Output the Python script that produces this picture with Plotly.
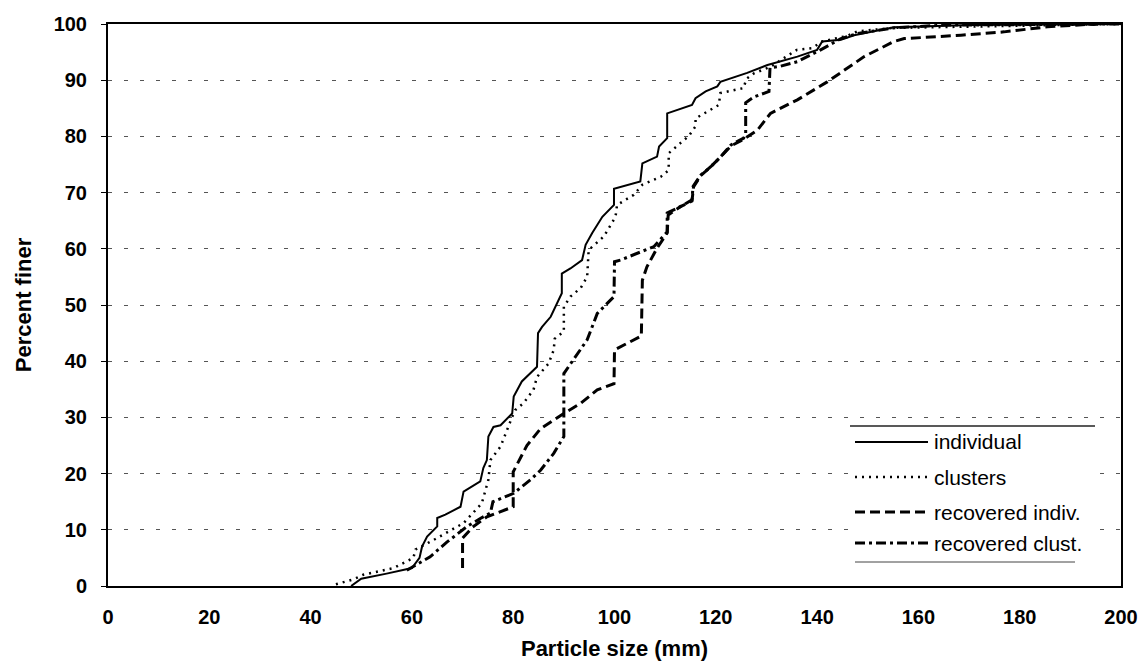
import plotly.graph_objects as go

# ---- data ----
ind_x = [48, 50, 55, 60, 61.5, 62, 63, 65, 65, 66.6, 69.6, 70.2, 73.5, 74.1, 74.8, 75.1, 76.1, 77.5,
         79.8, 80.1, 81.7, 84.7, 84.9, 85.7, 87.4, 88.3, 89.6, 89.6, 91.3, 93.6, 94.3, 95.6, 97.6, 99.9,
         99.9, 105.1, 105.5, 108.4, 108.8, 110.4, 110.4, 115.3, 116, 118, 120.3, 120.9, 126.2, 130.2,
         136.1, 140, 141, 144.7, 147.3, 155.2, 170, 200]
ind_y = [0, 1.3, 2.2, 3.2, 5, 7, 8.8, 10.6, 12.1, 12.7, 14.1, 16.8, 18.6, 21, 22.4, 26.6, 28.3, 28.6,
         30.7, 33.7, 36.4, 39, 45, 46.1, 47.9, 49.7, 52.1, 55.6, 56.5, 58, 60.7, 62.8, 65.7, 67.8,
         70.7, 72, 75.2, 76.4, 78.2, 79.7, 84.1, 85.6, 86.8, 88, 88.9, 89.7, 91.3, 92.7,
         94.2, 95.4, 96.9, 97.2, 98, 99.4, 99.8, 100]

clu_x = [45, 48.5, 50.4, 56.4, 60.3, 60.7, 64.3, 70.2, 73.8, 75.1, 75.5, 77.5, 79.8, 80.4, 82, 84,
         84.7, 87, 88, 88.2, 90, 90, 91.3, 93.3, 94.6, 94.9, 97.9, 100.2, 100.5, 103.8, 105.5, 109.1,
         110.7, 110.7, 113, 114.7, 116, 116, 118.3, 120.6, 120.9, 125.5, 126, 127.5, 130.8, 136, 139,
         141, 146, 148, 155, 200]
clu_y = [0.3, 1.2, 2, 3.2, 5, 6.5, 8.2, 11.2, 14.7, 18.9, 22.4, 24.8, 30.1, 31.3, 32.5, 34.9,
         37.2, 39.6, 42, 44, 45.3, 49.7, 51.5, 53, 55, 59.8, 62.2, 65.7, 67.8, 69.6, 71.4, 72.8,
         74, 77, 78.8, 80.1, 81.8, 83.2, 84.4, 85.6, 87.7, 88.6, 90.2, 91.2, 92.4, 95.4, 95.7,
         96.9, 97.9, 98.7, 99.3, 100]

rind_x = [70, 70, 72, 74.8, 80, 80, 82.7, 85.4, 89.3, 93.3, 96.6, 99.9, 100, 104.5, 105.3, 105.5,
          106.4, 108.4, 110.4, 110.6, 113, 115.3, 115.6, 117, 119, 121, 123, 125.5, 128.2, 130.8,
          136.1, 142, 149.3, 155.2, 157.2, 168.4, 176.9, 185.5, 195]
rind_y = [3.2, 8.5, 10.5, 12.3, 14.1, 20.3, 25, 28, 30.3, 32.5, 34.9, 36, 42, 44, 44.5, 54.4,
          56.8, 60.1, 62.8, 66, 67.5, 68.5, 71, 73, 74.6, 76.4, 78.3, 79.5, 81.1, 84.1,
          86.5, 89.7, 94.2, 96.9, 97.4, 98, 98.6, 99.5, 100]

rclu_x = [59, 63.6, 66.9, 70.9, 73.5, 75.5, 76, 77.5, 80.1, 83.4, 85.4, 88, 90, 90, 91.3, 92.3,
          94.6, 96.6, 99.9, 100, 101.2, 107.8, 110.4, 110.4, 113, 115.3, 115.5, 117, 119, 121, 123,
          125.5, 125.9, 125.9, 127.5, 130.5, 130.7, 132.8, 136.1, 140.7, 144.7, 148, 155, 165, 200]
rclu_y = [2.8, 5.2, 7.8, 10.6, 12, 13, 15, 15.6, 16.5, 18.9, 20.6, 23.6, 26.6, 37.8, 39.6, 40.8,
          43.8, 48.5, 51.5, 57.7, 58, 60.4, 63, 66.4, 67.5, 68.7, 71.1, 73.1, 74.6, 76.4, 78.5,
          79.7, 80.5, 86, 87, 88, 92.2, 92.5, 93.3, 95.4, 97.4, 98.3, 99.3, 99.8, 100]

names = ["individual", "clusters", "recovered indiv.", "recovered clust."]
x_ticks = list(range(0, 201, 20))
y_ticks = list(range(0, 101, 10))

styles = [
    dict(color="black", width=2, dash="solid"),
    dict(color="black", width=2.5, dash="2px,5px"),
    dict(color="black", width=3, dash="10px,5px"),
    dict(color="black", width=3, dash="10px,4px,3px,4px"),
]
series = [(ind_x, ind_y), (clu_x, clu_y), (rind_x, rind_y), (rclu_x, rclu_y)]

FONT = "Liberation Sans, Arial"

fig = go.Figure()
for (xs, ys), nm, st in zip(series, names, styles):
    fig.add_trace(go.Scatter(x=xs, y=ys, mode="lines", name=nm, line=st, showlegend=False))

W, H = 1147, 665
L, R, T, B = 108, 26, 24, 79
pw, ph = W - L - R, H - T - B

def px2paper(px, py):
    return (px - L) / pw, (H - B - py) / ph

shapes = []
# legend background and rules
x0, y0 = px2paper(850, 562)
x1, y1 = px2paper(1100, 426)
shapes.append(dict(type="rect", xref="paper", yref="paper", x0=x0, y0=y0, x1=x1, y1=y1,
                   fillcolor="white", line=dict(width=0), layer="above"))
a, b = px2paper(850, 426); c, _ = px2paper(1095, 426)
shapes.append(dict(type="line", xref="paper", yref="paper", x0=a, y0=b, x1=c, y1=b,
                   line=dict(color="#222", width=1.5), layer="above"))
a, b = px2paper(855, 562); c, _ = px2paper(1075, 562)
shapes.append(dict(type="line", xref="paper", yref="paper", x0=a, y0=b, x1=c, y1=b,
                   line=dict(color="#444", width=1), layer="above"))
annotations = []
leg_y = [442, 477, 512, 543]
for nm, st, py in zip(names, styles, leg_y):
    a, b = px2paper(855, py); c, _ = px2paper(928, py)
    shapes.append(dict(type="line", xref="paper", yref="paper", x0=a, y0=b, x1=c, y1=b,
                       line=st, layer="above"))
    tx, ty = px2paper(932, py)
    annotations.append(dict(xref="paper", yref="paper", x=tx, y=ty, text=nm, showarrow=False,
                            xanchor="left", yanchor="middle",
                            font=dict(family=FONT, size=21, color="black")))

fig.update_layout(
    width=W, height=H,
    margin=dict(l=L, r=R, t=T, b=B, autoexpand=False),
    plot_bgcolor="white", paper_bgcolor="white",
    font=dict(family=FONT, color="black"),
    shapes=shapes, annotations=annotations,
    xaxis=dict(range=[0, 200], tickvals=x_ticks, ticks="", showgrid=False, zeroline=False,
               showline=True, linecolor="black", linewidth=2, mirror=True, automargin=False,
               tickfont=dict(size=20, weight="bold"), ticklabelstandoff=12,
               title=dict(text="Particle size (mm)", font=dict(size=22, weight="bold"), standoff=14)),
    yaxis=dict(range=[0, 100], tickvals=y_ticks, ticks="outside", ticklen=5, tickcolor="black",
               showgrid=True, gridcolor="#555", gridwidth=1, griddash="4px,12px", zeroline=False,
               showline=True, linecolor="black", linewidth=2, mirror=True, automargin=False,
               tickfont=dict(size=20, weight="bold"), ticklabelstandoff=10,
               title=dict(text="Percent finer", font=dict(size=22, weight="bold"), standoff=16)),
)

fig.write_html("out.html")
